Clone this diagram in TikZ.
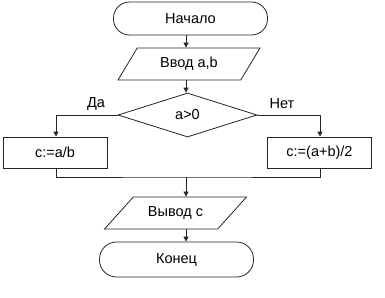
\documentclass[tikz,border=0pt]{standalone}
\usepackage{fontspec}
\setmainfont{Liberation Sans}
\usetikzlibrary{shapes.geometric,arrows.meta,positioning}
\tikzset{
    line/.style={draw=black!85, line width=0.8pt},
    arr/.style={line, -{Triangle[width=5pt,length=5pt]}},
    terminal/.style={line, rectangle, rounded corners=16pt, minimum width=154pt, minimum height=33pt},
    io/.style={line, trapezium, trapezium stretches body, minimum width=142pt,
        text height=10pt, text depth=3pt, inner ysep=9.5pt, inner xsep=2pt},
    decision/.style={line, diamond, minimum width=139pt, minimum height=44pt, inner sep=0pt},
    process/.style={line, rectangle, minimum width=104pt, minimum height=31pt},
}
\begin{document}
\begin{tikzpicture}[x=1pt, y=-1pt, font=\fontsize{14.5}{17}\selectfont]
    \useasboundingbox[fill=white] (0,0) rectangle (385,297);
    % Blocks
    \node[terminal] (start) at (190.5,18.5) {Начало};
    \node[io, trapezium left angle=59, trapezium right angle=121] (in) at (189,64) {Ввод a,b};
    \node[decision] (dec) at (187.5,115) {a>0};
    \node[process] (yes) at (55,152.5) {c:=a/b};
    \node[process] (no) at (319.5,152.5) {c:=(a+b)/2};
    \node[io, trapezium left angle=48, trapezium right angle=132] (out) at (175.5,213) {Вывод c};
    \node[terminal, minimum height=35pt, rounded corners=17pt] (stop) at (176.5,259.5) {Конец};
    \coordinate (mrg) at (186,177);
    % Labels
    \node (da) at (96,104) {Да};
    \node (net) at (282,104) {Нет};
    % Connectors
    \draw[arr] (start.south -| mrg) -- (in.north -| mrg);
    \draw[arr] (in.south -| mrg) -- (dec.north -| mrg);
    \draw[arr] (dec.west) -| (yes.north -| 56,0);
    \draw[arr] (dec.east) -| (no.north -| 320,0);
    \draw[line] (yes.south -| 56,0) |- (mrg) -| (no.south -| 320,0);
    \draw[arr] (mrg) -- (out.north -| mrg);
    \draw[arr] (out.south -| mrg) -- (stop.north -| mrg);
\end{tikzpicture}
\end{document}
